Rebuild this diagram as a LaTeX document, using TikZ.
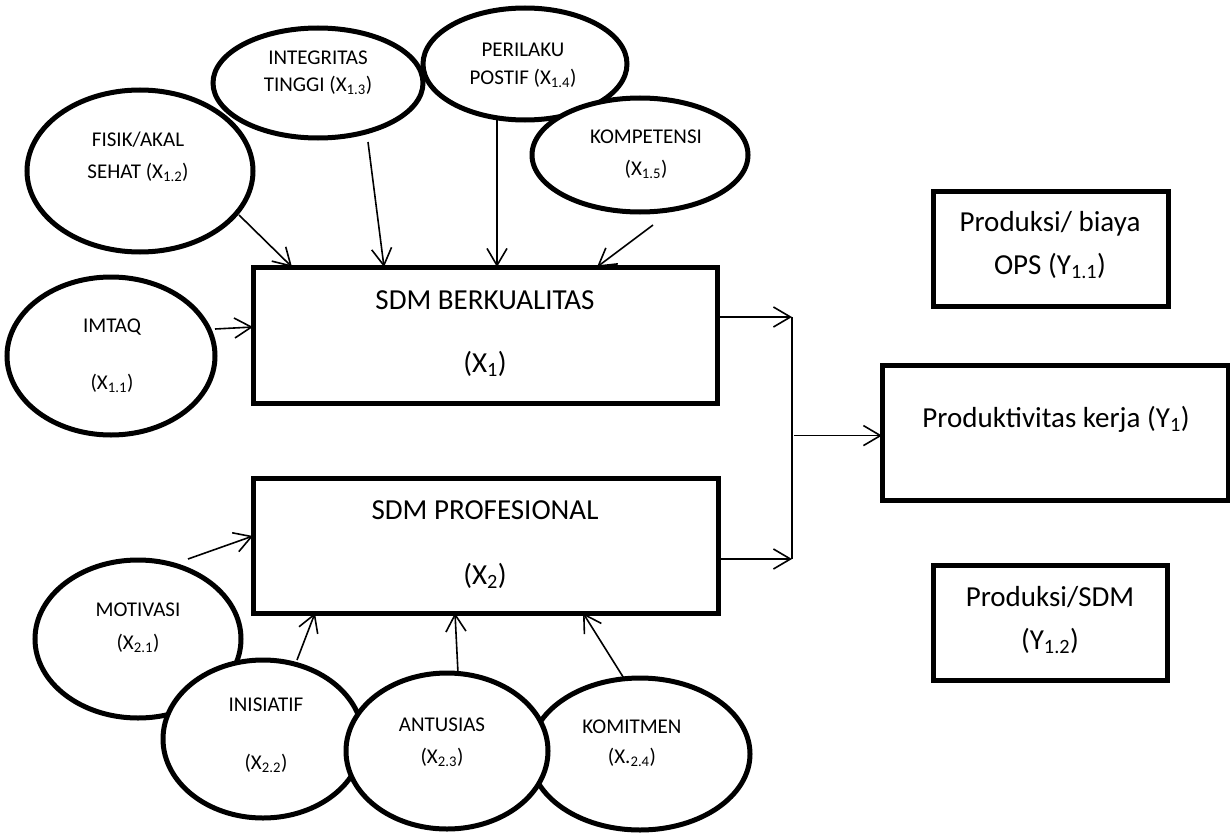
\documentclass[tikz,border=0pt]{standalone}
\usepackage{fontspec}
\setmainfont{Carlito}
\usetikzlibrary{shapes.geometric,arrows.meta,calc}
\newcommand{\sbs}[1]{\textsubscript{#1}}
\begin{document}
\begin{tikzpicture}[x=1pt,y=-1pt,
  ell/.style={draw,ellipse,line width=5pt,fill=white,inner sep=0pt,outer sep=0pt},
  bx/.style={draw,rectangle,line width=5pt,fill=white,inner sep=0pt,outer sep=0pt},
  txs/.style={inner sep=0pt,text height=13.3pt,text depth=0pt,font=\fontsize{21}{25}\selectfont},
  txb/.style={inner sep=0pt,text height=18.3pt,text depth=0pt,font=\fontsize{29}{35}\selectfont},
  conn/.style={line width=1.6pt},
  arr/.style={conn,-{Straight Barb[length=17pt,width=20pt]}}]
\useasboundingbox (0,0) rectangle (1230,832);
% top ellipses
\node[ell,minimum width=226pt,minimum height=162pt] (fis) at (140,171) {};
\node[ell,minimum width=210pt,minimum height=110pt] (integ) at (318,83) {};
\node[ell,minimum width=204pt,minimum height=112pt] (peril) at (525,64) {};
\node[ell,minimum width=216pt,minimum height=114pt] (komp) at (640,155) {};
\node[ell,minimum width=208pt,minimum height=158pt] (imtaq) at (111,356) {};
% bottom ellipses
\node[ell,minimum width=206pt,minimum height=158pt] (motiv) at (138,639) {};
\node[ell,minimum width=200pt,minimum height=158pt] (inis) at (263,739) {};
\node[ell,minimum width=220pt,minimum height=152pt] (komit) at (640,754) {};
\node[ell,minimum width=202pt,minimum height=156pt] (antus) at (447,751) {};
% boxes
\node[bx,minimum width=464pt,minimum height=136pt] (b1) at (485,335) {};
\node[bx,minimum width=465pt,minimum height=135pt] (b2) at (485.5,545.5) {};
\node[bx,minimum width=235pt,minimum height=115pt] (ops) at (1050.5,248.5) {};
\node[bx,minimum width=346pt,minimum height=135pt] (prod) at (1055,432.5) {};
\node[bx,minimum width=234pt,minimum height=115pt] (sdm) at (1050,622.5) {};
% texts
\node[txs] (t1a) at (138,140) {FISIK/AKAL};
\node[txs] (t1b) at (138,172) {SEHAT (X\sbs{1.2})};
\node[txs] (t2a) at (318,58) {INTEGRITAS};
\node[txs] (t2b) at (318,85) {TINGGI (X\sbs{1.3})};
\node[txs] (t3a) at (523,50) {PERILAKU};
\node[txs] (t3b) at (523,78) {POSTIF (X\sbs{1.4})};
\node[txs] (t4a) at (646,137) {KOMPETENSI};
\node[txs] (t4b) at (646,169) {(X\sbs{1.5})};
\node[txs] (t5a) at (112,326) {IMTAQ};
\node[txs] (t5b) at (112,383) {(X\sbs{1.1})};
\node[txs] (t6a) at (138,610) {MOTIVASI};
\node[txs] (t6b) at (138,643) {(X\sbs{2.1})};
\node[txs] (t7a) at (266,705) {INISIATIF};
\node[txs] (t7b) at (266,763) {(X\sbs{2.2})};
\node[txs] (t8a) at (442,725) {ANTUSIAS};
\node[txs] (t8b) at (442,757) {(X\sbs{2.3})};
\node[txs] (t9a) at (632,727) {KOMITMEN};
\node[txs] (t9b) at (632,757) {(X.\sbs{2.4})};
\node[txb] (tb1a) at (485,300) {SDM BERKUALITAS};
\node[txb] (tb1b) at (485,363) {(X\sbs{1})};
\node[txb] (tb2a) at (485,510) {SDM PROFESIONAL};
\node[txb] (tb2b) at (485,575) {(X\sbs{2})};
\node[txb] (topsa) at (1050,222) {Produksi/ biaya};
\node[txb] (topsb) at (1050,265) {OPS (Y\sbs{1.1})};
\node[txb] (tprod) at (1056,418) {Produktivitas kerja (Y\sbs{1})};
\node[txb] (tsdma) at (1050,597) {Produksi/SDM};
\node[txb] (tsdmb) at (1050,640) {(Y\sbs{1.2})};
% connectors into SDM BERKUALITAS
\draw[arr] ($(fis.center)+(99,44)$) -- ($(b1.north west)+(39,0)$);
\draw[arr] ($(integ.center)+(50,59)$) -- ($(b1.north west)+(131,0)$);
\draw[arr] ($(peril.center)+(-28,56)$) -- ($(b1.north west)+(244,0)$);
\draw[arr] ($(komp.center)+(13,70)$) -- ($(b1.north west)+(344,0)$);
\draw[arr] ($(imtaq.center)+(104,-27)$) -- ($(b1.north west)+(0,60)$);
% connectors into SDM PROFESIONAL
\draw[arr] ($(motiv.center)+(50,-80)$) -- ($(b2.north west)+(0,58)$);
\draw[arr] ($(inis.center)+(34,-79)$) -- ($(b2.south west)+(62,0)$);
\draw[arr] ($(antus.center)+(11,-78)$) -- ($(b2.south west)+(202,0)$);
\draw[arr] ($(komit.center)+(-15,-74)$) -- ($(b2.south west)+(330,0)$);
% junction
\coordinate (j1) at ($(b1.north east)+(75,50)$);
\coordinate (j2) at ($(b2.north east)+(74,81)$);
\coordinate (jm) at ($(j1)!0.49!(j2)$);
\draw[arr] ($(b1.north east)+(0,50)$) -- (j1);
\draw[arr] ($(b2.north east)+(0,81)$) -- (j2);
\draw[conn] (j1) -- (j2);
\draw[arr] ($(jm)+(2,0)$) -- (prod.west |- jm);
\end{tikzpicture}
\end{document}
